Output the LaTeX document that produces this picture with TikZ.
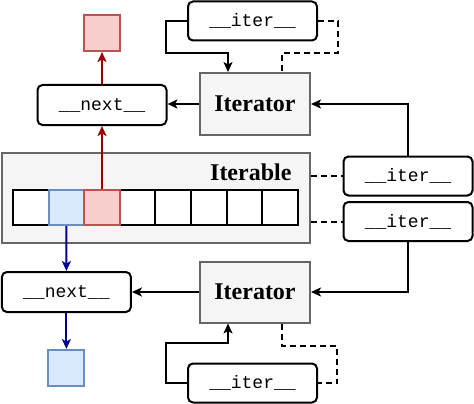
\documentclass[tikz,border=0pt]{standalone}
\usepackage{fontspec}
\setmainfont{Liberation Serif}
\setmonofont{Liberation Mono}
\usetikzlibrary{arrows.meta}

\definecolor{boxgray}{HTML}{F5F5F5}
\definecolor{edgegray}{HTML}{666666}
\definecolor{redfill}{HTML}{F8CECC}
\definecolor{rededge}{HTML}{B85450}
\definecolor{bluefill}{HTML}{DAE8FC}
\definecolor{blueedge}{HTML}{6C8EBF}
\definecolor{darkred}{HTML}{990000}
\definecolor{darkblue}{HTML}{000099}

\tikzset{
    method/.style={draw=black, line width=2pt, rounded corners=5pt, fill=white,
        minimum width=129pt, minimum height=39pt, inner sep=0pt,
        font=\ttfamily\fontsize{18}{20}\selectfont},
    klass/.style={draw=edgegray, line width=2pt, fill=boxgray,
        minimum width=110pt, minimum height=62pt, inner sep=0pt,
        font=\bfseries\fontsize{24}{26}\selectfont},
    cellbox/.style={draw=black, line width=2pt, fill=white,
        minimum width=35.6pt, minimum height=35pt, inner sep=0pt},
    item/.style={line width=2pt, minimum width=36pt, minimum height=36pt, inner sep=0pt},
    arr/.style={line width=2pt, -{Stealth[length=10pt,width=9pt,inset=2.5pt]}},
    dashline/.style={line width=2pt, dash pattern=on 6pt off 4pt},
}

\begin{document}
\begin{tikzpicture}[x=1pt, y=-1pt]

    \useasboundingbox (0,0) rectangle (474,404);

    % Iterable with its cells
    \node[klass, minimum width=308pt, minimum height=90pt] (iterable) at (156,198) {};
    \node[anchor=east, font=\bfseries\fontsize{24}{26}\selectfont] (iterlabel) at (295,172) {Iterable};
    \foreach \i in {1,...,8}{
        \node[cellbox] (cell\i) at ({13+(\i-0.5)*35.6}, 207.5) {};
    }
    \node[cellbox, fill=bluefill, draw=blueedge] (cell2) at ({13+1.5*35.6}, 207.5) {};
    \node[cellbox, fill=redfill, draw=rededge] (cell3) at ({13+2.5*35.6}, 207.5) {};

    % Top iterator
    \node[klass] (itorTop) at (255,104) {Iterator};
    \node[method] (iterTop) at (252.5,21) {\_\_iter\_\_};
    \node[method, minimum height=40pt] (nextTop) at (102,105) {\_\_next\_\_};
    \node[item, draw=rededge, fill=redfill] (sqRed) at (102,33) {};

    % Iterable methods
    \node[method] (iterR1) at (408,176) {\_\_iter\_\_};
    \node[method] (iterR2) at (408,221.5) {\_\_iter\_\_};

    % Bottom iterator
    \node[klass, minimum height=61pt] (itorBot) at (255,292) {Iterator};
    \node[method, minimum height=40pt] (nextBot) at (66.4,292) {\_\_next\_\_};
    \node[item, draw=blueedge, fill=bluefill] (sqBlue) at (66.4,368) {};
    \node[method] (iterBot) at (252.5,383) {\_\_iter\_\_};

    % Connectors, top
    \draw[arr] (iterTop.west) -| ++(-21,32) -| ([xshift=-27pt]itorTop.north);
    \draw[dashline] (iterTop.east) -| ++(20,32) -| ([xshift=27pt]itorTop.north);
    \draw[arr] (iterR1.north) |- (itorTop.east);
    \draw[arr] (itorTop.west) -- (itorTop.west -| nextTop.east);
    \draw[arr, darkred] (cell3.north) -- (nextTop.south);
    \draw[arr, darkred] (nextTop.north) -- (sqRed.south);

    % Connectors, middle
    \draw[dashline] (iterable.east |- iterR1.west) -- (iterR1.west);
    \draw[dashline] (iterable.east |- iterR2.west) -- (iterR2.west);

    % Connectors, bottom
    \draw[arr] (iterR2.south) |- (itorBot.east);
    \draw[arr] (itorBot.west) -- (itorBot.west -| nextBot.east);
    \draw[arr, darkblue] (cell2.south) -- (nextBot.north);
    \draw[arr, darkblue] (nextBot.south) -- (sqBlue.north);
    \draw[arr] (iterBot.west) -| ++(-21,-40) -| ([xshift=-27pt]itorBot.south);
    \draw[dashline] ([xshift=27pt]itorBot.south) |- ++(55,22) |- (iterBot.east);

\end{tikzpicture}
\end{document}
